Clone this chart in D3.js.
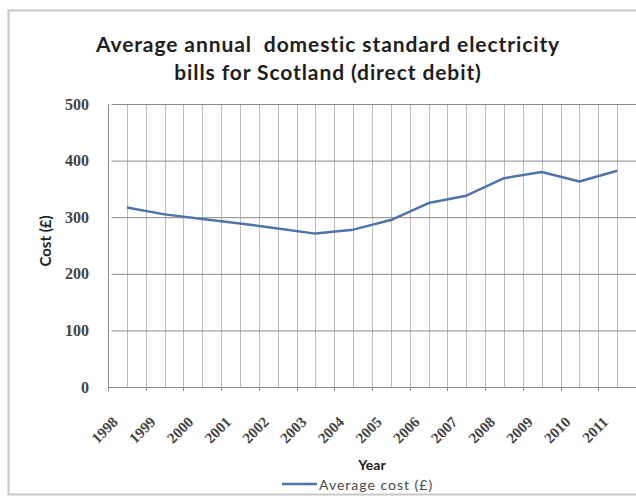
<!DOCTYPE html>
<html>
<head>
<meta charset="utf-8">
<script src="https://cdn.jsdelivr.net/npm/d3@7"></script>
<style>
  html, body { margin: 0; padding: 0; background: #fff; }
  svg { display: block; }
</style>
</head>
<body>
<div id="chart"></div>
<script>
// Average annual domestic standard electricity bills, Scotland, direct debit (£)
const years = ["1998", "1999", "2000", "2001", "2002", "2003", "2004",
               "2005", "2006", "2007", "2008", "2009", "2010", "2011"];
const averageCost = [317, 305, 297, 289, 280, 271, 278,
                     295, 325, 338, 369, 380, 363, 382];
const costTicks = [0, 100, 200, 300, 400, 500];
const seriesName = "Average cost (£)";
const titleLines = ["Average annual  domestic standard electricity",
                    "bills for Scotland (direct debit)"];

const W = 636, H = 497;
const plot = { left: 108, right: 636, top: 104, bottom: 387 };

const svg = d3.select("#chart").append("svg")
  .attr("width", W).attr("height", H);

// chart area frame
svg.append("rect")
  .attr("x", 8.5).attr("y", 10.5)
  .attr("width", W + 10).attr("height", H - 13)
  .attr("fill", "#fff")
  .attr("stroke", "#c8c8c8").attr("stroke-width", 2);

const x = d3.scaleBand().domain(years).range([plot.left, plot.right]).padding(0);
const y = d3.scaleLinear().domain([0, 500]).range([plot.bottom, plot.top]);
const bw = x.bandwidth();

// vertical gridlines at category edges and centres
const vLines = [];
years.forEach(d => { vLines.push(x(d)); vLines.push(x(d) + bw / 2); });
vLines.push(x(years[years.length - 1]) + bw);

svg.append("g").selectAll("line").data(vLines).join("line")
  .attr("x1", d => Math.round(d) + 0.5).attr("x2", d => Math.round(d) + 0.5)
  .attr("y1", plot.top).attr("y2", plot.bottom)
  .attr("stroke", "#bdbdbd").attr("stroke-width", 1);

// value axis with horizontal gridlines
const yAxis = svg.append("g")
  .attr("transform", `translate(${plot.left},0)`)
  .call(d3.axisLeft(y).tickValues(costTicks).tickSize(-(plot.right - plot.left)).tickPadding(19));
yAxis.select(".domain").remove();
yAxis.selectAll(".tick line").attr("stroke", "#8a8a8a").attr("x1", 3.5);
yAxis.selectAll(".tick text")
  .attr("fill", "#444")
  .style("font-family", "'Liberation Serif', serif")
  .style("font-weight", "bold")
  .style("font-size", "16px");

// axis lines
svg.append("line")
  .attr("x1", plot.left + 0.5).attr("x2", plot.left + 0.5)
  .attr("y1", plot.top).attr("y2", plot.bottom)
  .attr("stroke", "#8a8a8a");
svg.append("line")
  .attr("x1", plot.left).attr("x2", plot.right)
  .attr("y1", Math.round(y(0)) + 0.5).attr("y2", Math.round(y(0)) + 0.5)
  .attr("stroke", "#8a8a8a");

// category tick marks
svg.append("g").selectAll("line").data(vLines.filter((d, i) => i % 2 === 0)).join("line")
  .attr("x1", d => Math.round(d) + 0.5).attr("x2", d => Math.round(d) + 0.5)
  .attr("y1", plot.bottom).attr("y2", plot.bottom + 4)
  .attr("stroke", "#8a8a8a");

// rotated year labels
svg.append("g").selectAll("text").data(years).join("text")
  .attr("transform", d => `translate(${x(d) + bw / 2 - 8},${plot.bottom + 36}) rotate(-45)`)
  .attr("text-anchor", "end")
  .attr("fill", "#444")
  .style("font-family", "'Liberation Serif', serif")
  .style("font-weight", "bold")
  .style("font-size", "15px")
  .text(d => d);

// data line
const line = d3.line()
  .x((d, i) => x(years[i]) + bw / 2)
  .y(d => y(d));
svg.append("path")
  .datum(averageCost)
  .attr("d", line)
  .attr("fill", "none")
  .attr("stroke", "#4f74a8")
  .attr("stroke-width", 2.5)
  .attr("stroke-linejoin", "round");

// title
const title = svg.append("text")
  .attr("text-anchor", "middle")
  .attr("fill", "#1e1e1e")
  .style("font-family", "Lato, sans-serif")
  .style("font-weight", "bold")
  .style("font-size", "21px")
  .style("letter-spacing", "0.9px")
  .style("white-space", "pre");
titleLines.forEach((t, i) => {
  title.append("tspan").attr("x", 328).attr("y", 52 + i * 28).text(t);
});

// axis titles
svg.append("text")
  .attr("transform", `translate(51,241) rotate(-90)`)
  .attr("text-anchor", "middle")
  .attr("fill", "#1e1e1e")
  .style("font-family", "Lato, sans-serif")
  .style("font-weight", "bold")
  .style("font-size", "15px")
  .text("Cost (£)");

svg.append("text")
  .attr("x", 372).attr("y", 470)
  .attr("text-anchor", "middle")
  .attr("fill", "#1e1e1e")
  .style("font-family", "Lato, sans-serif")
  .style("font-weight", "bold")
  .style("font-size", "14px")
  .text("Year");

// legend
const legend = svg.append("g");
legend.append("line")
  .attr("x1", 282).attr("x2", 317).attr("y1", 484).attr("y2", 484)
  .attr("stroke", "#4f74a8").attr("stroke-width", 2.5);
legend.append("text")
  .attr("x", 319).attr("y", 489.5)
  .attr("fill", "#4a4a4a")
  .style("font-family", "Lato, sans-serif")
  .style("font-size", "14px")
  .style("letter-spacing", "1px")
  .text(seriesName);
</script>
</body>
</html>
